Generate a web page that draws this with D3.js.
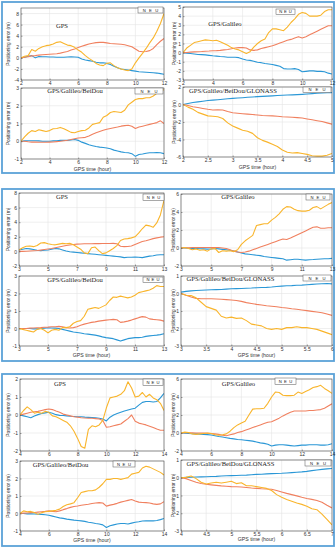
<!DOCTYPE html>
<html><head><meta charset="utf-8">
<script src="https://cdn.jsdelivr.net/npm/d3@7"></script>
<style>
html,body{margin:0;padding:0;background:#fff;}
svg{display:block;}
</style></head><body>
<svg id="chart" width="336" height="550"></svg>
<script>
// ---------- time grids (hours) ----------
const hours2to12 = d3.range(41).map(i => 2 + i * 0.25);
const hours3to13 = d3.range(41).map(i => 3 + i * 0.25);
const hours4to14 = d3.range(41).map(i => 4 + i * 0.25);
const hours2to5 = d3.range(31).map(i => 2 + i * 0.1);
const hours3to6 = d3.range(31).map(i => 3 + i * 0.1);
const hours4to7 = d3.range(31).map(i => 4 + i * 0.1);

// ---------- tick labels ----------
const xTicks2to12 = [2, 4, 6, 8, 10, 12];
const xTicks3to13 = [3, 5, 7, 9, 11, 13];
const xTicks4to14 = [4, 6, 8, 10, 12, 14];
const xTicks2to5 = [2, 2.5, 3, 3.5, 4, 4.5, 5];
const xTicks3to6 = [3, 3.5, 4, 4.5, 5, 5.5, 6];
const xTicks4to7 = [4, 4.5, 5, 5.5, 6, 6.5, 7];
const yTicksA = [-4, -2, 0, 2, 4, 6, 8];
const yTicksB = [-3, -2, -1, 0, 1, 2, 3, 4, 5];
const yTicksC = [-1, 0, 1, 2, 3];
const yTicksD = [-6, -4, -2, 0, 2];
const yTicksE = [-2, 0, 2, 4, 6, 8];
const yTicksF = [-2, 0, 2, 4, 6];
const yTicksM1to3 = [-1, 0, 1, 2, 3];
const yTicksM3to1 = [-3, -2, -1, 0, 1];
const yTicksM2to2 = [-2, -1, 0, 1, 2];

const seriesNames = ["N", "E", "U"];
const titles = ["GPS", "GPS/Galileo", "GPS/Galileo/BeiDou", "GPS/Galileo/BeiDou/GLONASS"];

// ---------- Panel 1 ----------
const p1GpsN = [0,0.1,0.3,0.4,0.0,0.25,0.2,0.2,0.15,0.15,0.1,0.1,0.1,0.15,0.2,0.15,0.1,-0.2,-0.4,-0.5,-0.6,-0.8,-0.9,-0.9,-1.0,-1.2,-1.5,-1.8,-2.0,-2.1,-2.2,-2.3,-2.4,-2.5,-2.55,-2.6,-2.65,-2.7,-2.75,-2.85,-2.95];
const p1GpsE = [0,0.1,0.2,0.35,0.4,0.5,0.55,0.6,0.65,0.7,0.75,0.85,1.0,1.15,1.4,1.6,1.85,2.1,2.3,2.5,2.65,2.75,2.8,2.8,2.7,2.6,2.55,2.5,2.45,2.35,2.2,2.0,1.6,1.2,1.1,1.15,1.3,1.7,2.4,3.0,3.5];
const p1GpsU = [0,0.3,0.4,1.5,1.2,1.7,2.0,2.2,2.3,2.5,2.8,2.9,2.6,2.3,2.2,1.9,1.4,1.0,0.4,-0.1,-0.5,-1.0,-1.3,-1.4,-1.0,-0.9,-1.4,-1.8,-2.0,-2.2,-2.3,-2.0,-0.9,0.0,0.8,1.7,2.7,3.6,4.8,6.2,8.0];

const p1GalN = [0,-0.05,-0.1,-0.15,-0.2,-0.22,-0.25,-0.3,-0.35,-0.38,-0.42,-0.45,-0.5,-0.5,-0.5,-0.55,-0.7,-0.8,-0.85,-0.95,-1.05,-1.1,-1.2,-1.25,-1.3,-1.4,-1.5,-1.75,-1.8,-1.8,-1.75,-1.85,-2.1,-2.05,-2.0,-2.0,-2.05,-2.05,-2.1,-2.25,-2.35];
const p1GalE = [0,0.02,0.05,0.08,0.1,0.12,0.15,0.17,0.2,0.22,0.25,0.3,0.35,0.42,0.5,0.55,0.55,0.5,0.3,0.25,0.3,0.45,0.55,0.65,0.75,0.9,1.05,1.2,1.35,1.45,1.6,1.75,1.6,1.75,1.95,2.15,2.35,2.55,2.75,2.95,2.95];
const p1GalU = [0,0.5,0.8,1.1,1.2,1.3,1.4,1.35,1.3,1.35,1.2,1.0,0.8,0.55,0.4,0.3,0.1,-0.1,0.1,0.6,1.0,1.3,1.5,2.2,2.6,2.6,2.5,2.4,2.8,3.3,3.7,4.2,4.4,4.3,4.0,4.0,4.0,4.1,4.5,4.7,4.7];

const p1BdsN = [0,0.02,0.03,0.03,0.03,0.02,0.0,0.0,0.0,0.02,0.03,0.05,0.05,0.05,0.07,0.1,0.05,-0.05,-0.12,-0.2,-0.25,-0.3,-0.33,-0.35,-0.38,-0.42,-0.5,-0.55,-0.6,-0.63,-0.65,-0.7,-0.85,-0.75,-0.72,-0.68,-0.65,-0.65,-0.63,-0.65,-0.7];
const p1BdsE = [0,0,-0.03,-0.05,-0.05,-0.06,-0.06,-0.06,-0.05,-0.04,-0.02,0.0,0.03,0.06,0.1,0.14,0.18,0.2,0.22,0.3,0.4,0.48,0.55,0.62,0.68,0.72,0.76,0.8,0.85,0.88,0.9,0.85,0.72,0.8,0.85,0.9,0.95,1.0,1.05,1.15,1.0];
const p1BdsU = [0,0.25,0.45,0.6,0.55,0.65,0.6,0.55,0.6,0.7,0.72,0.78,0.7,0.6,0.5,0.48,0.55,0.6,0.62,0.75,0.95,1.0,1.05,1.35,1.45,1.62,1.68,1.65,1.62,1.75,2.05,2.2,2.35,2.4,2.4,2.45,2.45,2.55,2.7,2.85,2.9];

const p1GloN = [0,0.12,0.22,0.3,0.38,0.45,0.5,0.55,0.6,0.65,0.7,0.74,0.78,0.82,0.86,0.9,0.93,0.96,0.99,1.02,1.05,1.08,1.1,1.13,1.16,1.2,1.24,1.28,1.31,1.34,1.36];
const p1GloE = [0,-0.12,-0.25,-0.35,-0.45,-0.55,-0.62,-0.6,-0.62,-0.8,-0.95,-1.0,-1.05,-1.1,-1.15,-1.2,-1.25,-1.28,-1.3,-1.35,-1.4,-1.42,-1.45,-1.5,-1.55,-1.65,-1.75,-1.85,-1.95,-2.1,-2.25];
const p1GloU = [0,-0.3,-0.55,-0.9,-1.1,-1.3,-1.35,-1.4,-1.6,-2.1,-2.45,-2.7,-2.95,-3.05,-3.3,-3.8,-4.1,-4.3,-4.55,-4.8,-5.2,-5.45,-5.55,-5.5,-5.6,-5.7,-5.85,-5.9,-5.9,-5.8,-5.6];

// ---------- Panel 2 ----------
const p2GpsN = [0.2,0.3,0.4,0.35,0.25,0.15,0.1,0.15,0.2,0.3,0.4,0.35,0.2,0.05,-0.05,-0.1,-0.15,-0.2,-0.25,-0.3,-0.35,-0.4,-0.45,-0.5,-0.55,-0.6,-0.65,-0.7,-0.75,-0.85,-0.8,-0.8,-0.78,-0.8,-0.85,-0.75,-0.65,-0.6,-0.5,-0.45,-0.45];
const p2GpsE = [0,0,0.02,0.05,0.08,0.12,0.18,0.25,0.32,0.4,0.5,0.6,0.7,0.8,0.88,0.95,1.0,1.02,1.04,1.05,1.05,1.06,1.07,1.08,1.08,1.08,1.1,1.05,0.7,0.65,0.68,0.75,0.95,1.15,1.35,1.45,1.6,1.75,1.85,1.95,2.0];
const p2GpsU = [0.2,0.5,0.7,0.75,0.65,0.8,1.15,1.2,1.05,0.95,0.9,1.0,1.1,1.05,1.1,0.9,0.6,0.3,-0.2,-0.3,0.5,0.6,0.1,-0.3,-0.2,0.1,0.4,0.8,1.5,1.7,1.75,1.85,2.0,2.5,3.1,3.6,3.5,3.3,3.9,5.0,7.0];

const p2GalN = [0,0,-0.02,-0.05,-0.05,-0.08,-0.1,-0.12,-0.1,-0.05,-0.1,-0.15,-0.2,-0.25,-0.35,-0.45,-0.55,-0.65,-0.7,-0.75,-0.8,-0.85,-0.95,-1.0,-1.05,-1.1,-1.15,-1.2,-1.35,-1.3,-1.25,-1.25,-1.3,-1.35,-1.3,-1.28,-1.25,-1.22,-1.2,-1.2,-1.15];
const p2GalE = [0,0.02,0.03,0.05,0.05,0.05,0.05,0.05,0.05,0.05,0.05,0.0,-0.05,-0.2,-0.35,-0.45,-0.5,-0.45,-0.35,-0.2,-0.05,0.1,0.25,0.4,0.55,0.7,0.85,1.0,0.95,1.1,1.3,1.5,1.7,1.9,2.1,2.3,2.35,2.2,2.2,2.25,2.25];
const p2GalU = [0,0.05,-0.05,-0.2,-0.1,-0.25,-0.2,-0.35,-0.1,-0.05,-0.5,-0.3,-0.35,-0.3,-0.4,-0.2,0.4,0.8,1.1,1.4,2.5,2.6,2.7,2.7,3.1,3.4,3.8,4.3,4.6,4.55,4.3,4.15,4.1,4.1,4.2,4.5,4.6,4.35,4.6,4.85,5.05];

const p2BdsN = [0,0,0,0,-0.02,-0.02,0,0.02,0.04,0.03,0.02,0,-0.05,-0.1,-0.15,-0.2,-0.23,-0.26,-0.3,-0.32,-0.35,-0.38,-0.42,-0.48,-0.52,-0.55,-0.58,-0.65,-0.72,-0.65,-0.58,-0.55,-0.52,-0.52,-0.5,-0.45,-0.42,-0.4,-0.38,-0.35,-0.3];
const p2BdsE = [0,0,0,0.02,0.03,0.04,0.05,0.07,0.08,0.1,0.1,0.12,0.1,0.05,0.03,0.05,0.1,0.18,0.25,0.3,0.35,0.38,0.42,0.45,0.48,0.5,0.52,0.5,0.35,0.38,0.42,0.48,0.55,0.62,0.68,0.65,0.55,0.52,0.5,0.48,0.42];
const p2BdsU = [0,-0.05,-0.1,-0.15,-0.2,-0.05,0,-0.1,-0.25,-0.1,-0.05,-0.1,0.05,0.05,0.1,0.3,0.4,0.45,0.7,1.1,1.15,1.2,1.15,1.25,1.35,1.6,1.8,1.78,1.85,1.8,1.75,1.8,1.9,2.05,2.1,2.15,2.2,2.3,2.45,2.4,2.4];

const p2GloN = [0.08,0.12,0.15,0.17,0.19,0.2,0.21,0.22,0.23,0.25,0.27,0.28,0.29,0.3,0.31,0.33,0.34,0.35,0.37,0.4,0.42,0.44,0.45,0.47,0.48,0.5,0.52,0.54,0.56,0.57,0.55];
const p2GloE = [0,-0.1,-0.2,-0.28,-0.3,-0.3,-0.3,-0.31,-0.33,-0.35,-0.37,-0.4,-0.45,-0.52,-0.57,-0.62,-0.66,-0.7,-0.73,-0.76,-0.8,-0.83,-0.87,-0.9,-0.94,-0.98,-1.02,-1.06,-1.1,-1.17,-1.25];
const p2GloU = [0,-0.1,-0.12,-0.25,-0.5,-0.75,-0.85,-0.95,-1.3,-1.4,-1.35,-1.42,-1.4,-1.55,-1.75,-1.8,-1.85,-2.0,-2.05,-2.0,-2.05,-1.95,-1.95,-1.9,-1.95,-1.95,-2.0,-2.05,-2.15,-2.25,-2.35];

// ---------- Panel 3 ----------
const p3GpsN = [0,-0.05,-0.1,-0.15,-0.05,0.02,0.08,0.12,0.15,0.1,0.02,-0.02,-0.03,-0.05,-0.07,-0.08,-0.1,-0.1,-0.12,-0.13,-0.14,-0.15,-0.18,-0.22,-0.33,-0.12,0.0,0.08,0.15,0.22,0.28,0.33,0.38,0.55,0.7,0.75,0.75,0.72,0.75,0.95,1.2];
const p3GpsE = [0,0.05,0.1,0.15,0.18,0.2,0.25,0.3,0.33,0.3,0.22,0.15,0.05,0.0,-0.05,-0.1,-0.12,-0.15,-0.17,-0.18,-0.18,-0.2,-0.22,-0.3,-0.68,-0.65,-0.6,-0.55,-0.5,-0.35,-0.2,0.0,-0.35,-0.45,-0.5,-0.55,-0.62,-0.7,-0.78,-0.85,-0.85];
const p3GpsU = [0,0.25,0.45,0.3,0.1,0.15,0.1,0.2,0.15,-0.05,-0.1,-0.2,-0.3,-0.4,-0.6,-0.9,-1.3,-1.75,-1.85,-0.8,-0.6,-0.65,-0.55,-0.3,0.4,0.95,1.0,1.05,1.15,1.35,1.85,1.5,1.0,1.05,1.25,1.0,1.15,0.95,0.85,0.65,0.25];

const p3GalN = [0,-0.02,-0.05,-0.08,-0.1,-0.12,-0.15,-0.18,-0.22,-0.3,-0.38,-0.45,-0.52,-0.6,-0.65,-0.72,-0.75,-0.8,-0.85,-0.9,-1.0,-1.1,-1.15,-1.25,-1.45,-1.35,-1.3,-1.3,-1.35,-1.4,-1.45,-1.4,-1.35,-1.35,-1.3,-1.3,-1.3,-1.35,-1.35,-1.3,-1.2];
const p3GalE = [0,0.02,0.03,0.02,0,0,0,-0.02,-0.05,-0.1,-0.15,-0.25,-0.3,-0.2,-0.1,0.05,0.15,0.3,0.45,0.6,0.75,0.9,1.05,1.2,1.25,1.45,1.65,1.9,2.1,2.3,2.45,2.45,2.45,2.45,2.5,2.5,2.55,2.6,2.75,3.0,3.25];
const p3GalU = [0,0.1,0.05,-0.1,-0.15,-0.1,-0.05,0,-0.05,-0.2,-0.25,-0.2,-0.1,0.2,0.6,0.9,1.1,1.3,2.0,2.65,2.7,2.7,2.75,3.3,4.0,4.55,4.5,4.2,4.15,4.15,4.2,4.55,4.4,4.6,4.8,5.05,5.15,5.3,4.95,4.7,4.4];

const p3BdsN = [0,0,-0.02,-0.02,-0.03,-0.04,-0.05,-0.07,-0.1,-0.15,-0.2,-0.25,-0.28,-0.32,-0.35,-0.38,-0.4,-0.42,-0.45,-0.5,-0.53,-0.57,-0.6,-0.65,-0.8,-0.7,-0.65,-0.6,-0.57,-0.57,-0.6,-0.55,-0.5,-0.47,-0.43,-0.42,-0.42,-0.42,-0.4,-0.35,-0.28];
const p3BdsE = [0,0.02,0.03,0.05,0.06,0.08,0.1,0.12,0.15,0.12,0.1,0.15,0.22,0.28,0.35,0.4,0.43,0.47,0.5,0.53,0.57,0.6,0.62,0.6,0.42,0.48,0.52,0.58,0.65,0.7,0.75,0.8,0.72,0.65,0.63,0.62,0.6,0.55,0.52,0.55,0.68];
const p3BdsU = [0,0.15,0.1,0.12,0.05,-0.05,0.05,0.1,0.12,0.15,0.18,0.25,0.4,0.5,0.55,0.62,0.9,1.2,1.25,1.3,1.3,1.35,1.5,1.7,1.95,1.95,2.0,2.0,1.95,2.0,2.05,2.25,2.3,2.35,2.6,2.7,2.65,2.55,2.45,2.35,2.2];

const p3GloN = [0,0.02,0.03,0.04,0.05,0.06,0.07,0.08,0.1,0.11,0.12,0.13,0.14,0.15,0.17,0.19,0.2,0.22,0.23,0.24,0.25,0.27,0.29,0.31,0.33,0.36,0.4,0.44,0.47,0.5,0.52];
const p3GloE = [0,-0.05,-0.15,-0.25,-0.32,-0.37,-0.4,-0.43,-0.46,-0.48,-0.5,-0.51,-0.52,-0.55,-0.58,-0.6,-0.62,-0.63,-0.65,-0.72,-0.8,-0.88,-0.95,-1.02,-1.1,-1.17,-1.22,-1.28,-1.38,-1.55,-1.7];
const p3GloU = [0,0.02,0.1,-0.05,-0.25,-0.35,-0.3,-0.25,-0.3,-0.25,-0.2,-0.33,-0.28,-0.45,-0.45,-0.5,-0.55,-0.6,-0.72,-0.95,-1.1,-1.22,-1.32,-1.42,-1.5,-1.6,-1.75,-1.8,-2.05,-2.35,-2.65];

// ---------- layout ----------
const colors = { N: "#2a97d6", E: "#f0805f", U: "#f9b52c" };
const frames = [[2, 2, 332, 171], [2, 189, 332, 172], [2, 374, 332, 172]];

const plots = [
  { box:[21,8,164,80], xDom:[2,12], yDom:[-4,9], xT:xTicks2to12, yT:yTicksA, title:titles[0], t:[62,28], leg:[138,7,25,6], h:hours2to12, s:[p1GpsN,p1GpsE,p1GpsU], yl:8 },
  { box:[183,7,332,80], xDom:[2,12], yDom:[-3,5], xT:xTicks2to12, yT:yTicksB, title:titles[1], t:[225,26], leg:[276,9,19,5.5], h:hours2to12, s:[p1GalN,p1GalE,p1GalU], yl:174 },
  { box:[21,88,164,159], xDom:[2,12], yDom:[-1,3], xT:xTicks2to12, yT:yTicksC, title:titles[2], t:[75,93], leg:[135,88,28,6], h:hours2to12, s:[p1BdsN,p1BdsE,p1BdsU], yl:8, xl:171 },
  { box:[183,87,332,157], xDom:[2,5], yDom:[-6,2], xT:xTicks2to5, yT:yTicksD, title:titles[3], t:[233,93], leg:[303,87,28,5.5], h:hours2to5, s:[p1GloN,p1GloE,p1GloU], yl:174, xl:169 },

  { box:[19,193,164,266], xDom:[3,13], yDom:[-2,8], xT:xTicks3to13, yT:yTicksE, title:titles[0], t:[62,199], leg:[143,194,21,6.5], h:hours3to13, s:[p2GpsN,p2GpsE,p2GpsU], yl:8 },
  { box:[181,194,332,266], xDom:[3,13], yDom:[-2,6], xT:xTicks3to13, yT:yTicksF, title:titles[1], t:[238,199], leg:[306,194,24,6], h:hours3to13, s:[p2GalN,p2GalE,p2GalU], yl:173 },
  { box:[19,276,164,346], xDom:[3,13], yDom:[-1,3], xT:xTicks3to13, yT:yTicksM1to3, title:titles[2], t:[75,281.5], leg:[143,277,20,5.5], h:hours3to13, s:[p2BdsN,p2BdsE,p2BdsU], yl:8, xl:357 },
  { box:[181,276,332,346], xDom:[3,6], yDom:[-3,1], xT:xTicks3to6, yT:yTicksM3to1, title:titles[3], t:[230.5,281], leg:[303,275,28,6], h:hours3to6, s:[p2GloN,p2GloE,p2GloU], yl:173, xl:356.5 },

  { box:[20,379,164,451], xDom:[4,14], yDom:[-2,2], xT:xTicks4to14, yT:yTicksM2to2, title:titles[0], t:[60,385.5], leg:[143,379,20,6.5], h:hours4to14, s:[p3GpsN,p3GpsE,p3GpsU], yl:8 },
  { box:[181,379,332,451], xDom:[4,14], yDom:[-2,6], xT:xTicks4to14, yT:yTicksF, title:titles[1], t:[238.5,385.5], leg:[275,378,21,6.5], h:hours4to14, s:[p3GalN,p3GalE,p3GalU], yl:173 },
  { box:[20,461,164,531], xDom:[4,14], yDom:[-1,3], xT:xTicks4to14, yT:yTicksM1to3, title:titles[2], t:[60.5,467], leg:[113,461,22,6], h:hours4to14, s:[p3BdsN,p3BdsE,p3BdsU], yl:8, xl:541.5 },
  { box:[181,460,332,531], xDom:[4,7], yDom:[-3,1], xT:xTicks4to7, yT:yTicksM3to1, title:titles[3], t:[230.5,466], leg:[305,460,26,6], h:hours4to7, s:[p3GloN,p3GloE,p3GloU], yl:173, xl:541 }
];

const svg = d3.select("#chart");
svg.append("rect").attr("width", 336).attr("height", 550).attr("fill", "#fff");

frames.forEach(([fx, fy, fw, fh]) => {
  svg.append("rect").attr("x", fx).attr("y", fy).attr("width", fw).attr("height", fh)
    .attr("fill", "none").attr("stroke", "#5ba2d8").attr("stroke-width", 1.8);
});

const sans = "'Liberation Sans', Arial, sans-serif";
const serif = "'Liberation Serif', 'Times New Roman', serif";

plots.forEach((p, idx) => {
  const [x0, y0, x1, y1] = p.box;
  const x = d3.scaleLinear().domain(p.xDom).range([x0, x1]);
  const y = d3.scaleLinear().domain(p.yDom).range([y1, y0]);
  const g = svg.append("g");

  // grid
  g.append("g").selectAll("line").data(p.xT).join("line")
    .attr("x1", d => x(d)).attr("x2", d => x(d)).attr("y1", y0).attr("y2", y1)
    .attr("stroke", "#e4e4e4").attr("stroke-width", 0.6);
  g.append("g").selectAll("line").data(p.yT).join("line")
    .attr("y1", d => y(d)).attr("y2", d => y(d)).attr("x1", x0).attr("x2", x1)
    .attr("stroke", "#e4e4e4").attr("stroke-width", 0.6);

  // clip
  const cid = "clip" + idx;
  svg.append("clipPath").attr("id", cid).append("rect")
    .attr("x", x0).attr("y", y0).attr("width", x1 - x0).attr("height", y1 - y0);

  const line = d3.line().x(d => x(d[0])).y(d => y(d[1]));
  seriesNames.forEach((name, k) => {
    const vals = p.s[k];
    const pts = vals.map((v, i) => [p.h[i], v]);
    g.append("path").datum(pts).attr("d", line)
      .attr("fill", "none").attr("stroke", colors[name]).attr("stroke-width", 1.1)
      .attr("stroke-linejoin", "round").attr("clip-path", `url(#${cid})`);
  });

  // axes
  const xa = d3.axisBottom(x).tickValues(p.xT).tickSizeInner(-1.5).tickSizeOuter(0)
    .tickPadding(1.6).tickFormat(d => String(d));
  const ya = d3.axisLeft(y).tickValues(p.yT).tickSizeInner(-1.5).tickSizeOuter(0)
    .tickPadding(2).tickFormat(d => String(d));
  const gx = g.append("g").attr("transform", `translate(0,${y1})`).call(xa);
  const gy = g.append("g").attr("transform", `translate(${x0},0)`).call(ya);
  [gx, gy].forEach(a => {
    a.select(".domain").remove();
    a.selectAll(".tick line").attr("stroke", "#444").attr("stroke-width", 0.5);
    a.selectAll(".tick text").attr("font-size", 5).attr("font-family", sans).attr("fill", "#333");
  });

  // box
  g.append("rect").attr("x", x0).attr("y", y0).attr("width", x1 - x0).attr("height", y1 - y0)
    .attr("fill", "none").attr("stroke", "#4a4a4a").attr("stroke-width", 0.6);

  // title
  g.append("text").attr("x", p.t[0]).attr("y", p.t[1]).attr("text-anchor", "middle")
    .attr("font-family", serif).attr("font-size", 6.6).attr("fill", "#222").text(p.title);

  // legend
  const [lx, ly, lw, lh] = p.leg;
  g.append("rect").attr("x", lx).attr("y", ly).attr("width", lw).attr("height", lh)
    .attr("fill", "#fff").attr("stroke", "#555").attr("stroke-width", 0.5);
  seriesNames.forEach((name, k) => {
    g.append("text").attr("x", lx + lw * (k + 1) / 4).attr("y", ly + lh / 2 + 1.5)
      .attr("text-anchor", "middle").attr("font-family", sans).attr("font-size", 4.2)
      .attr("fill", "#222").text(name);
  });

  // y label
  g.append("text").attr("transform", `translate(${p.yl},${(y0 + y1) / 2}) rotate(-90)`)
    .attr("text-anchor", "middle").attr("dy", "0.35em").attr("font-family", sans)
    .attr("font-size", 4.8).attr("fill", "#333").text("Positioning error (m)");

  // x label
  if (p.xl) {
    g.append("text").attr("x", (x0 + x1) / 2).attr("y", p.xl).attr("text-anchor", "middle")
      .attr("font-family", sans).attr("font-size", 5.2).attr("fill", "#333").text("GPS time (hour)");
  }
});
</script>
</body></html>
